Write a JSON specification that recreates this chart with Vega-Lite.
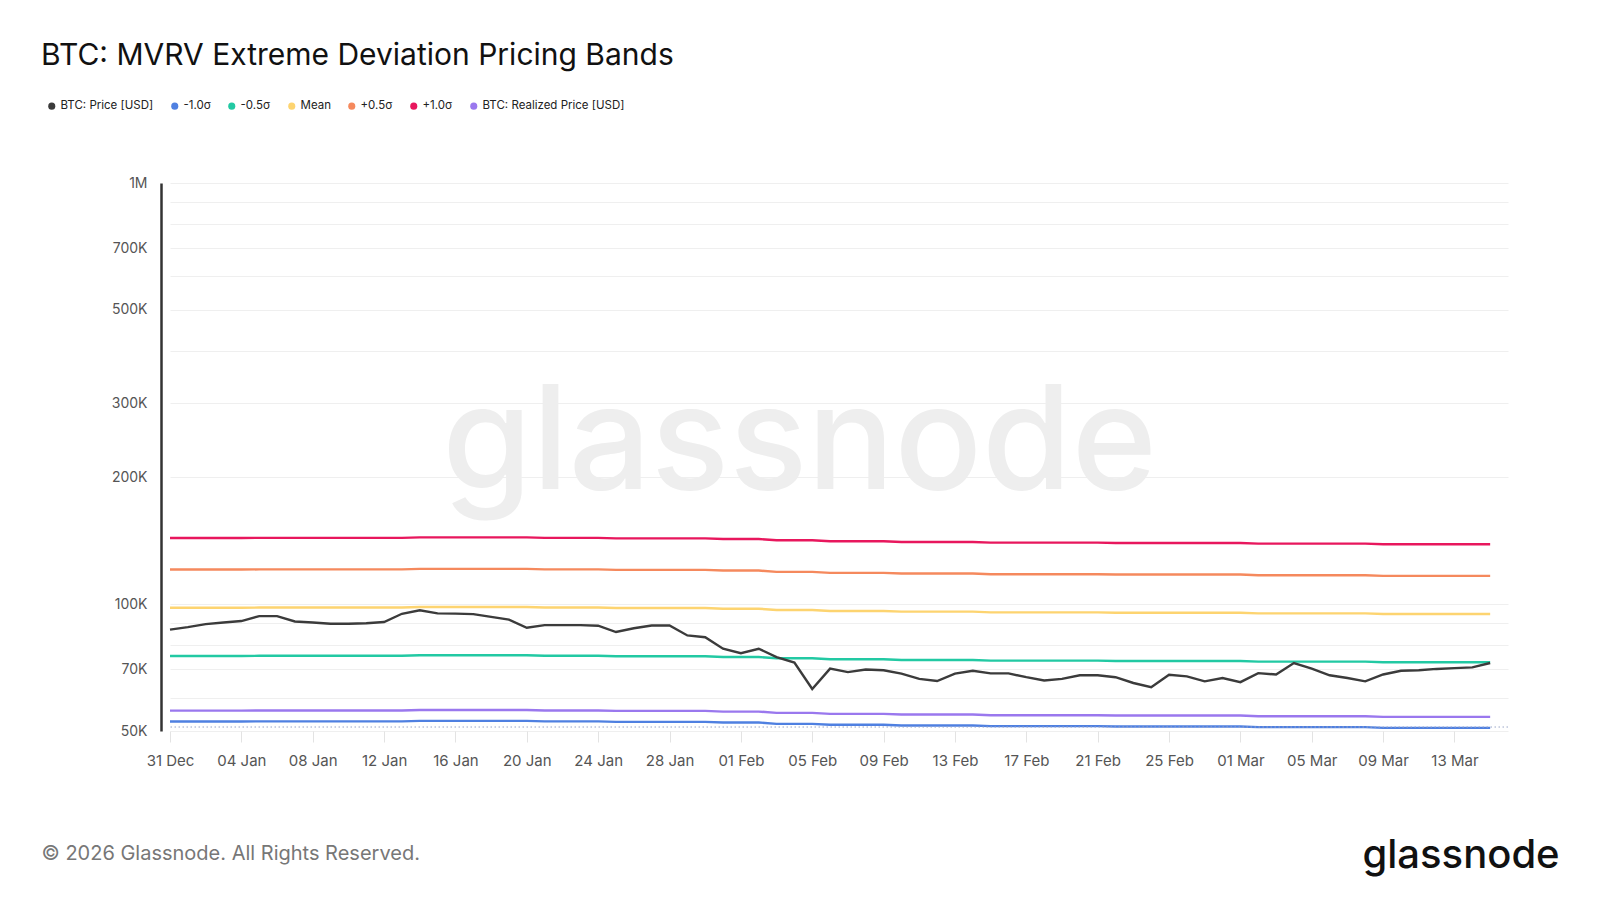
{
  "$schema": "https://vega.github.io/schema/vega-lite/v6.json",
  "autosize": {"type": "none"},
  "padding": {"left": 170, "top": 183, "right": 92, "bottom": 169},
  "width": 1338,
  "height": 548,
  "background": "white",
  "title": {
    "text": "BTC: MVRV Extreme Deviation Pricing Bands",
    "anchor": "start",
    "frame": "group",
    "dx": -129,
    "dy": -29,
    "offset": 0,
    "font": "Inter",
    "fontSize": 30,
    "fontWeight": 400,
    "color": "#111111"
  },
  "data": {
    "values": [
      {"date": "2025-12-31", "price": 87000, "realized": 55900, "m1": 52660, "m05": 75350, "mean": 98100, "p05": 120860, "p1": 143610},
      {"date": "2026-01-01", "price": 88200, "realized": 55900, "m1": 52660, "m05": 75350, "mean": 98100, "p05": 120860, "p1": 143610},
      {"date": "2026-01-02", "price": 89700, "realized": 55900, "m1": 52660, "m05": 75350, "mean": 98100, "p05": 120860, "p1": 143610},
      {"date": "2026-01-03", "price": 90500, "realized": 55900, "m1": 52660, "m05": 75350, "mean": 98100, "p05": 120860, "p1": 143610},
      {"date": "2026-01-04", "price": 91200, "realized": 55900, "m1": 52660, "m05": 75350, "mean": 98100, "p05": 120860, "p1": 143610},
      {"date": "2026-01-05", "price": 93700, "realized": 55950, "m1": 52700, "m05": 75420, "mean": 98190, "p05": 120960, "p1": 143740},
      {"date": "2026-01-06", "price": 93700, "realized": 55950, "m1": 52700, "m05": 75420, "mean": 98190, "p05": 120960, "p1": 143740},
      {"date": "2026-01-07", "price": 91000, "realized": 55950, "m1": 52700, "m05": 75420, "mean": 98190, "p05": 120960, "p1": 143740},
      {"date": "2026-01-08", "price": 90500, "realized": 55950, "m1": 52700, "m05": 75420, "mean": 98190, "p05": 120960, "p1": 143740},
      {"date": "2026-01-09", "price": 89900, "realized": 55950, "m1": 52700, "m05": 75420, "mean": 98190, "p05": 120960, "p1": 143740},
      {"date": "2026-01-10", "price": 89900, "realized": 55950, "m1": 52700, "m05": 75420, "mean": 98190, "p05": 120960, "p1": 143740},
      {"date": "2026-01-11", "price": 90100, "realized": 55950, "m1": 52700, "m05": 75420, "mean": 98190, "p05": 120960, "p1": 143740},
      {"date": "2026-01-12", "price": 90700, "realized": 55950, "m1": 52700, "m05": 75420, "mean": 98190, "p05": 120960, "p1": 143740},
      {"date": "2026-01-13", "price": 94900, "realized": 55950, "m1": 52700, "m05": 75420, "mean": 98190, "p05": 120960, "p1": 143740},
      {"date": "2026-01-14", "price": 96700, "realized": 56100, "m1": 52850, "m05": 75620, "mean": 98460, "p05": 121290, "p1": 144120},
      {"date": "2026-01-15", "price": 95100, "realized": 56100, "m1": 52850, "m05": 75620, "mean": 98460, "p05": 121290, "p1": 144120},
      {"date": "2026-01-16", "price": 95000, "realized": 56100, "m1": 52850, "m05": 75620, "mean": 98460, "p05": 121290, "p1": 144120},
      {"date": "2026-01-17", "price": 94700, "realized": 56100, "m1": 52850, "m05": 75620, "mean": 98460, "p05": 121290, "p1": 144120},
      {"date": "2026-01-18", "price": 93300, "realized": 56100, "m1": 52850, "m05": 75620, "mean": 98460, "p05": 121290, "p1": 144120},
      {"date": "2026-01-19", "price": 91900, "realized": 56100, "m1": 52850, "m05": 75620, "mean": 98460, "p05": 121290, "p1": 144120},
      {"date": "2026-01-20", "price": 87900, "realized": 56100, "m1": 52850, "m05": 75620, "mean": 98460, "p05": 121290, "p1": 144120},
      {"date": "2026-01-21", "price": 89200, "realized": 55950, "m1": 52700, "m05": 75420, "mean": 98190, "p05": 120960, "p1": 143740},
      {"date": "2026-01-22", "price": 89200, "realized": 55950, "m1": 52700, "m05": 75420, "mean": 98190, "p05": 120960, "p1": 143740},
      {"date": "2026-01-23", "price": 89200, "realized": 55950, "m1": 52700, "m05": 75420, "mean": 98190, "p05": 120960, "p1": 143740},
      {"date": "2026-01-24", "price": 88900, "realized": 55950, "m1": 52700, "m05": 75420, "mean": 98190, "p05": 120960, "p1": 143740},
      {"date": "2026-01-25", "price": 85900, "realized": 55800, "m1": 52560, "m05": 75220, "mean": 97930, "p05": 120640, "p1": 143350},
      {"date": "2026-01-26", "price": 87700, "realized": 55800, "m1": 52560, "m05": 75220, "mean": 97930, "p05": 120640, "p1": 143350},
      {"date": "2026-01-27", "price": 89000, "realized": 55800, "m1": 52560, "m05": 75220, "mean": 97930, "p05": 120640, "p1": 143350},
      {"date": "2026-01-28", "price": 89000, "realized": 55800, "m1": 52560, "m05": 75220, "mean": 97930, "p05": 120640, "p1": 143350},
      {"date": "2026-01-29", "price": 84300, "realized": 55800, "m1": 52560, "m05": 75220, "mean": 97930, "p05": 120640, "p1": 143350},
      {"date": "2026-01-30", "price": 83500, "realized": 55800, "m1": 52560, "m05": 75220, "mean": 97930, "p05": 120640, "p1": 143350},
      {"date": "2026-01-31", "price": 78400, "realized": 55600, "m1": 52380, "m05": 74950, "mean": 97580, "p05": 120210, "p1": 142840},
      {"date": "2026-02-01", "price": 76500, "realized": 55600, "m1": 52380, "m05": 74950, "mean": 97580, "p05": 120210, "p1": 142840},
      {"date": "2026-02-02", "price": 78400, "realized": 55600, "m1": 52380, "m05": 74950, "mean": 97580, "p05": 120210, "p1": 142840},
      {"date": "2026-02-03", "price": 74900, "realized": 55200, "m1": 52000, "m05": 74410, "mean": 96880, "p05": 119340, "p1": 141810},
      {"date": "2026-02-04", "price": 72700, "realized": 55200, "m1": 52000, "m05": 74410, "mean": 96880, "p05": 119340, "p1": 141810},
      {"date": "2026-02-05", "price": 62900, "realized": 55200, "m1": 52000, "m05": 74410, "mean": 96880, "p05": 119340, "p1": 141810},
      {"date": "2026-02-06", "price": 70300, "realized": 54900, "m1": 51720, "m05": 74010, "mean": 96350, "p05": 118690, "p1": 141040},
      {"date": "2026-02-07", "price": 69000, "realized": 54900, "m1": 51720, "m05": 74010, "mean": 96350, "p05": 118690, "p1": 141040},
      {"date": "2026-02-08", "price": 70000, "realized": 54900, "m1": 51720, "m05": 74010, "mean": 96350, "p05": 118690, "p1": 141040},
      {"date": "2026-02-09", "price": 69700, "realized": 54900, "m1": 51720, "m05": 74010, "mean": 96350, "p05": 118690, "p1": 141040},
      {"date": "2026-02-10", "price": 68400, "realized": 54700, "m1": 51530, "m05": 73740, "mean": 96000, "p05": 118260, "p1": 140520},
      {"date": "2026-02-11", "price": 66500, "realized": 54700, "m1": 51530, "m05": 73740, "mean": 96000, "p05": 118260, "p1": 140520},
      {"date": "2026-02-12", "price": 65700, "realized": 54700, "m1": 51530, "m05": 73740, "mean": 96000, "p05": 118260, "p1": 140520},
      {"date": "2026-02-13", "price": 68400, "realized": 54700, "m1": 51530, "m05": 73740, "mean": 96000, "p05": 118260, "p1": 140520},
      {"date": "2026-02-14", "price": 69500, "realized": 54700, "m1": 51530, "m05": 73740, "mean": 96000, "p05": 118260, "p1": 140520},
      {"date": "2026-02-15", "price": 68500, "realized": 54500, "m1": 51340, "m05": 73470, "mean": 95650, "p05": 117830, "p1": 140010},
      {"date": "2026-02-16", "price": 68500, "realized": 54500, "m1": 51340, "m05": 73470, "mean": 95650, "p05": 117830, "p1": 140010},
      {"date": "2026-02-17", "price": 67100, "realized": 54500, "m1": 51340, "m05": 73470, "mean": 95650, "p05": 117830, "p1": 140010},
      {"date": "2026-02-18", "price": 65900, "realized": 54500, "m1": 51340, "m05": 73470, "mean": 95650, "p05": 117830, "p1": 140010},
      {"date": "2026-02-19", "price": 66500, "realized": 54500, "m1": 51340, "m05": 73470, "mean": 95650, "p05": 117830, "p1": 140010},
      {"date": "2026-02-20", "price": 67800, "realized": 54500, "m1": 51340, "m05": 73470, "mean": 95650, "p05": 117830, "p1": 140010},
      {"date": "2026-02-21", "price": 67800, "realized": 54500, "m1": 51340, "m05": 73470, "mean": 95650, "p05": 117830, "p1": 140010},
      {"date": "2026-02-22", "price": 67100, "realized": 54400, "m1": 51240, "m05": 73330, "mean": 95470, "p05": 117610, "p1": 139750},
      {"date": "2026-02-23", "price": 65000, "realized": 54400, "m1": 51240, "m05": 73330, "mean": 95470, "p05": 117610, "p1": 139750},
      {"date": "2026-02-24", "price": 63500, "realized": 54400, "m1": 51240, "m05": 73330, "mean": 95470, "p05": 117610, "p1": 139750},
      {"date": "2026-02-25", "price": 68000, "realized": 54400, "m1": 51240, "m05": 73330, "mean": 95470, "p05": 117610, "p1": 139750},
      {"date": "2026-02-26", "price": 67400, "realized": 54400, "m1": 51240, "m05": 73330, "mean": 95470, "p05": 117610, "p1": 139750},
      {"date": "2026-02-27", "price": 65600, "realized": 54400, "m1": 51240, "m05": 73330, "mean": 95470, "p05": 117610, "p1": 139750},
      {"date": "2026-02-28", "price": 66800, "realized": 54400, "m1": 51240, "m05": 73330, "mean": 95470, "p05": 117610, "p1": 139750},
      {"date": "2026-03-01", "price": 65300, "realized": 54400, "m1": 51240, "m05": 73330, "mean": 95470, "p05": 117610, "p1": 139750},
      {"date": "2026-03-02", "price": 68600, "realized": 54200, "m1": 51060, "m05": 73060, "mean": 95120, "p05": 117180, "p1": 139240},
      {"date": "2026-03-03", "price": 68100, "realized": 54200, "m1": 51060, "m05": 73060, "mean": 95120, "p05": 117180, "p1": 139240},
      {"date": "2026-03-04", "price": 72500, "realized": 54200, "m1": 51060, "m05": 73060, "mean": 95120, "p05": 117180, "p1": 139240},
      {"date": "2026-03-05", "price": 70300, "realized": 54200, "m1": 51060, "m05": 73060, "mean": 95120, "p05": 117180, "p1": 139240},
      {"date": "2026-03-06", "price": 67800, "realized": 54200, "m1": 51060, "m05": 73060, "mean": 95120, "p05": 117180, "p1": 139240},
      {"date": "2026-03-07", "price": 66800, "realized": 54200, "m1": 51060, "m05": 73060, "mean": 95120, "p05": 117180, "p1": 139240},
      {"date": "2026-03-08", "price": 65600, "realized": 54200, "m1": 51060, "m05": 73060, "mean": 95120, "p05": 117180, "p1": 139240},
      {"date": "2026-03-09", "price": 68100, "realized": 54000, "m1": 50870, "m05": 72790, "mean": 94770, "p05": 116750, "p1": 138730},
      {"date": "2026-03-10", "price": 69500, "realized": 54000, "m1": 50870, "m05": 72790, "mean": 94770, "p05": 116750, "p1": 138730},
      {"date": "2026-03-11", "price": 69700, "realized": 54000, "m1": 50870, "m05": 72790, "mean": 94770, "p05": 116750, "p1": 138730},
      {"date": "2026-03-12", "price": 70200, "realized": 54000, "m1": 50870, "m05": 72790, "mean": 94770, "p05": 116750, "p1": 138730},
      {"date": "2026-03-13", "price": 70500, "realized": 54000, "m1": 50870, "m05": 72790, "mean": 94770, "p05": 116750, "p1": 138730},
      {"date": "2026-03-14", "price": 70800, "realized": 54000, "m1": 50870, "m05": 72790, "mean": 94770, "p05": 116750, "p1": 138730},
      {"date": "2026-03-15", "price": 72500, "realized": 54000, "m1": 50870, "m05": 72790, "mean": 94770, "p05": 116750, "p1": 138730}
    ]
  },
  "layer": [
    {
      "data": {"values": [{"label": "glassnode"}]},
      "mark": {"type": "text", "font": "Inter", "fontSize": 145, "fontWeight": 500, "color": "#eeeeee", "align": "center", "baseline": "alphabetic"},
      "encoding": {
        "x": {
          "datum": {"year": 2026, "month": 2, "date": 4, "hours": 7, "utc": true},
          "type": "temporal",
          "axis": {
            "title": "© 2026 Glassnode. All Rights Reserved.",
            "format": "%d %b",
            "formatType": "utc",
            "labelExpr": "utcFormat(datum.value, '%d %b')"
          }
        },
        "y": {"datum": 188000, "type": "quantitative", "axis": null},
        "text": {"field": "label"}
      }
    },
    {
      "transform": [
        {"fold": ["m1", "m05", "mean", "p05", "p1", "realized", "price"], "as": ["series", "value"]}
      ],
      "mark": {"type": "line", "strokeWidth": 2.4, "interpolate": "linear"},
      "encoding": {
        "x": {
          "field": "date",
          "type": "temporal",
          "scale": {
            "type": "utc",
            "domain": [
              {"year": 2025, "month": 12, "date": 31, "utc": true},
              {"year": 2026, "month": 3, "date": 16, "utc": true}
            ]
          },
          "axis": {
            "title": "© 2026 Glassnode. All Rights Reserved.",
            "titleX": -129,
            "titleY": 122,
            "titleAlign": "left",
            "titleBaseline": "middle",
            "titleFont": "Inter",
            "titleFontSize": 20,
            "titleFontWeight": 400,
            "titleColor": "#777777",
            "format": "%d %b",
            "formatType": "utc",
            "labelExpr": "utcFormat(datum.value, '%d %b')",
            "values": [
              {"year": 2025, "month": 12, "date": 31, "utc": true},
              {"year": 2026, "month": 1, "date": 4, "utc": true},
              {"year": 2026, "month": 1, "date": 8, "utc": true},
              {"year": 2026, "month": 1, "date": 12, "utc": true},
              {"year": 2026, "month": 1, "date": 16, "utc": true},
              {"year": 2026, "month": 1, "date": 20, "utc": true},
              {"year": 2026, "month": 1, "date": 24, "utc": true},
              {"year": 2026, "month": 1, "date": 28, "utc": true},
              {"year": 2026, "month": 2, "date": 1, "utc": true},
              {"year": 2026, "month": 2, "date": 5, "utc": true},
              {"year": 2026, "month": 2, "date": 9, "utc": true},
              {"year": 2026, "month": 2, "date": 13, "utc": true},
              {"year": 2026, "month": 2, "date": 17, "utc": true},
              {"year": 2026, "month": 2, "date": 21, "utc": true},
              {"year": 2026, "month": 2, "date": 25, "utc": true},
              {"year": 2026, "month": 3, "date": 1, "utc": true},
              {"year": 2026, "month": 3, "date": 5, "utc": true},
              {"year": 2026, "month": 3, "date": 9, "utc": true},
              {"year": 2026, "month": 3, "date": 13, "utc": true}
            ],
            "grid": false,
            "domain": false,
            "ticks": true,
            "tickColor": "#e3e3e3",
            "tickSize": 11,
            "tickWidth": 1,
            "labelFont": "Inter",
            "labelFontSize": 15,
            "labelColor": "#555555",
            "labelPadding": 11,
            "labelFlush": false,
            "labelOverlap": false
          }
        },
        "y": {
          "field": "value",
          "type": "quantitative",
          "scale": {"type": "log", "domain": [50000, 1000000], "nice": false},
          "axis": {
            "title": null,
            "orient": "left",
            "offset": 9,
            "values": [50000, 60000, 70000, 80000, 90000, 100000, 200000, 300000, 400000, 500000, 600000, 700000, 800000, 900000, 1000000],
            "labelExpr": "indexof([50000, 70000, 100000, 200000, 300000, 500000, 700000, 1000000], datum.value) >= 0 ? replace(format(datum.value, '~s'), 'k', 'K') : ''",
            "labelOverlap": false,
            "labelFont": "Inter",
            "labelFontSize": 14,
            "labelColor": "#555555",
            "labelPadding": 14,
            "ticks": false,
            "domain": true,
            "domainColor": "#333333",
            "domainWidth": 2.5,
            "grid": true,
            "gridColor": "#efefef",
            "gridWidth": 1
          }
        },
        "color": {
          "field": "series",
          "type": "nominal",
          "scale": {
            "domain": ["price", "m1", "m05", "mean", "p05", "p1", "realized"],
            "range": ["#3b3b3b", "#4f80e1", "#22c9a3", "#fdd470", "#f5895d", "#e8175d", "#9a78ee"]
          },
          "legend": {
            "title": null,
            "orient": "none",
            "legendX": -124,
            "legendY": -83,
            "direction": "horizontal",
            "symbolType": "circle",
            "symbolSize": 50,
            "symbolStrokeWidth": 0,
            "labelFont": "Inter",
            "labelFontSize": 11.5,
            "labelColor": "#222222",
            "labelOffset": 3,
            "columnPadding": 15,
            "labelExpr": "{'price': 'BTC: Price [USD]', 'm1': '-1.0σ', 'm05': '-0.5σ', 'mean': 'Mean', 'p05': '+0.5σ', 'p1': '+1.0σ', 'realized': 'BTC: Realized Price [USD]'}[datum.label]",
            "encode": {
              "symbols": {
                "update": {
                  "fill": {"scale": "color", "field": "value"},
                  "fillOpacity": {"value": 1}
                }
              }
            }
          }
        }
      }
    },
    {
      "data": {"values": [{"label": "baseline"}]},
      "mark": {"type": "rule", "color": "#9aa6c8", "strokeWidth": 1, "strokeDash": [1.5, 2.5]},
      "encoding": {
        "y": {
          "datum": 51100,
          "type": "quantitative",
          "axis": {
            "orient": "right",
            "title": "glassnode",
            "titleAngle": 0,
            "titleX": -146,
            "titleY": 684,
            "titleAlign": "left",
            "titleBaseline": "alphabetic",
            "titleFont": "Inter",
            "titleFontSize": 40,
            "titleFontWeight": 500,
            "titleColor": "#111111",
            "labels": false,
            "ticks": false,
            "domain": false,
            "grid": false
          }
        }
      }
    }
  ],
  "resolve": {"axis": {"y": "independent"}},
  "config": {
    "view": {"stroke": null}
  }
}
